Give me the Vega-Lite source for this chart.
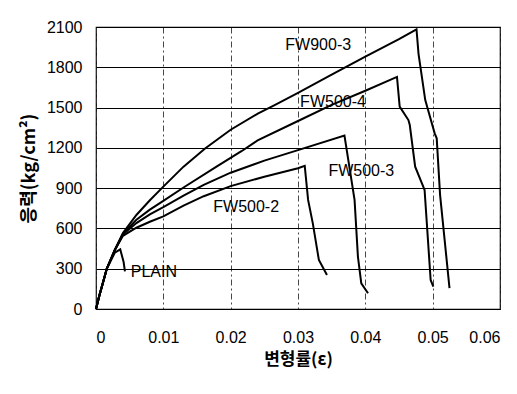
{
  "$schema": "https://vega.github.io/schema/vega-lite/v6.json",
  "width": 404,
  "height": 282,
  "autosize": "none",
  "padding": {"left": 96, "top": 27, "right": 17, "bottom": 85},
  "background": "white",
  "config": {
    "view": {"stroke": "black", "strokeWidth": 1.2},
    "font": "Liberation Sans"
  },
  "datasets": {
    "curves": [
      {"s": "FW900-3", "i": 0, "e": 0, "v": 0},
      {"s": "FW900-3", "i": 1, "e": 0.0005, "v": 100},
      {"s": "FW900-3", "i": 2, "e": 0.001, "v": 190},
      {"s": "FW900-3", "i": 3, "e": 0.0016, "v": 300},
      {"s": "FW900-3", "i": 4, "e": 0.0028, "v": 440},
      {"s": "FW900-3", "i": 5, "e": 0.004, "v": 565},
      {"s": "FW900-3", "i": 6, "e": 0.006, "v": 700},
      {"s": "FW900-3", "i": 7, "e": 0.008, "v": 810},
      {"s": "FW900-3", "i": 8, "e": 0.01, "v": 911},
      {"s": "FW900-3", "i": 9, "e": 0.013, "v": 1060},
      {"s": "FW900-3", "i": 10, "e": 0.0162, "v": 1195},
      {"s": "FW900-3", "i": 11, "e": 0.02, "v": 1335},
      {"s": "FW900-3", "i": 12, "e": 0.0241, "v": 1457},
      {"s": "FW900-3", "i": 13, "e": 0.0266, "v": 1520},
      {"s": "FW900-3", "i": 14, "e": 0.03, "v": 1610},
      {"s": "FW900-3", "i": 15, "e": 0.035, "v": 1745},
      {"s": "FW900-3", "i": 16, "e": 0.04, "v": 1880},
      {"s": "FW900-3", "i": 17, "e": 0.045, "v": 2010},
      {"s": "FW900-3", "i": 18, "e": 0.0476, "v": 2083},
      {"s": "FW900-3", "i": 19, "e": 0.0479, "v": 1900},
      {"s": "FW900-3", "i": 20, "e": 0.0489, "v": 1556},
      {"s": "FW900-3", "i": 21, "e": 0.0503, "v": 1308},
      {"s": "FW900-3", "i": 22, "e": 0.0506, "v": 1271},
      {"s": "FW900-3", "i": 23, "e": 0.0511, "v": 850},
      {"s": "FW900-3", "i": 24, "e": 0.0525, "v": 156},

      {"s": "FW500-4", "i": 0, "e": 0, "v": 0},
      {"s": "FW500-4", "i": 1, "e": 0.0005, "v": 100},
      {"s": "FW500-4", "i": 2, "e": 0.001, "v": 190},
      {"s": "FW500-4", "i": 3, "e": 0.0016, "v": 300},
      {"s": "FW500-4", "i": 4, "e": 0.0028, "v": 440},
      {"s": "FW500-4", "i": 5, "e": 0.004, "v": 560},
      {"s": "FW500-4", "i": 6, "e": 0.006, "v": 665},
      {"s": "FW500-4", "i": 7, "e": 0.008, "v": 740},
      {"s": "FW500-4", "i": 8, "e": 0.01, "v": 805},
      {"s": "FW500-4", "i": 9, "e": 0.013, "v": 905},
      {"s": "FW500-4", "i": 10, "e": 0.0179, "v": 1060},
      {"s": "FW500-4", "i": 11, "e": 0.0216, "v": 1175},
      {"s": "FW500-4", "i": 12, "e": 0.024, "v": 1255},
      {"s": "FW500-4", "i": 13, "e": 0.03, "v": 1400},
      {"s": "FW500-4", "i": 14, "e": 0.035, "v": 1520},
      {"s": "FW500-4", "i": 15, "e": 0.04, "v": 1625},
      {"s": "FW500-4", "i": 16, "e": 0.0447, "v": 1728},
      {"s": "FW500-4", "i": 17, "e": 0.0451, "v": 1507},
      {"s": "FW500-4", "i": 18, "e": 0.0464, "v": 1407},
      {"s": "FW500-4", "i": 19, "e": 0.0466, "v": 1370},
      {"s": "FW500-4", "i": 20, "e": 0.0474, "v": 1060},
      {"s": "FW500-4", "i": 21, "e": 0.0486, "v": 911},
      {"s": "FW500-4", "i": 22, "e": 0.0488, "v": 886},
      {"s": "FW500-4", "i": 23, "e": 0.0497, "v": 216},
      {"s": "FW500-4", "i": 24, "e": 0.0501, "v": 166},

      {"s": "FW500-3", "i": 0, "e": 0, "v": 0},
      {"s": "FW500-3", "i": 1, "e": 0.0005, "v": 100},
      {"s": "FW500-3", "i": 2, "e": 0.001, "v": 190},
      {"s": "FW500-3", "i": 3, "e": 0.0016, "v": 300},
      {"s": "FW500-3", "i": 4, "e": 0.0028, "v": 440},
      {"s": "FW500-3", "i": 5, "e": 0.004, "v": 555},
      {"s": "FW500-3", "i": 6, "e": 0.006, "v": 640},
      {"s": "FW500-3", "i": 7, "e": 0.008, "v": 705},
      {"s": "FW500-3", "i": 8, "e": 0.01, "v": 758},
      {"s": "FW500-3", "i": 9, "e": 0.013, "v": 845},
      {"s": "FW500-3", "i": 10, "e": 0.016, "v": 925},
      {"s": "FW500-3", "i": 11, "e": 0.02, "v": 1015},
      {"s": "FW500-3", "i": 12, "e": 0.025, "v": 1105},
      {"s": "FW500-3", "i": 13, "e": 0.03, "v": 1183},
      {"s": "FW500-3", "i": 14, "e": 0.0369, "v": 1292},
      {"s": "FW500-3", "i": 15, "e": 0.0384, "v": 812},
      {"s": "FW500-3", "i": 16, "e": 0.0389, "v": 389},
      {"s": "FW500-3", "i": 17, "e": 0.0394, "v": 191},
      {"s": "FW500-3", "i": 18, "e": 0.0404, "v": 117},

      {"s": "FW500-2", "i": 0, "e": 0, "v": 0},
      {"s": "FW500-2", "i": 1, "e": 0.0005, "v": 100},
      {"s": "FW500-2", "i": 2, "e": 0.001, "v": 190},
      {"s": "FW500-2", "i": 3, "e": 0.0016, "v": 300},
      {"s": "FW500-2", "i": 4, "e": 0.0028, "v": 440},
      {"s": "FW500-2", "i": 5, "e": 0.004, "v": 545},
      {"s": "FW500-2", "i": 6, "e": 0.006, "v": 605},
      {"s": "FW500-2", "i": 7, "e": 0.008, "v": 650},
      {"s": "FW500-2", "i": 8, "e": 0.01, "v": 690},
      {"s": "FW500-2", "i": 9, "e": 0.013, "v": 770},
      {"s": "FW500-2", "i": 10, "e": 0.016, "v": 840},
      {"s": "FW500-2", "i": 11, "e": 0.02, "v": 915},
      {"s": "FW500-2", "i": 12, "e": 0.025, "v": 985},
      {"s": "FW500-2", "i": 13, "e": 0.03, "v": 1048},
      {"s": "FW500-2", "i": 14, "e": 0.031, "v": 1066},
      {"s": "FW500-2", "i": 15, "e": 0.0315, "v": 812},
      {"s": "FW500-2", "i": 16, "e": 0.0322, "v": 638},
      {"s": "FW500-2", "i": 17, "e": 0.0331, "v": 365},
      {"s": "FW500-2", "i": 18, "e": 0.0343, "v": 253},

      {"s": "PLAIN", "i": 0, "e": 0, "v": 0},
      {"s": "PLAIN", "i": 1, "e": 0.0005, "v": 100},
      {"s": "PLAIN", "i": 2, "e": 0.001, "v": 190},
      {"s": "PLAIN", "i": 3, "e": 0.0016, "v": 300},
      {"s": "PLAIN", "i": 4, "e": 0.0028, "v": 420},
      {"s": "PLAIN", "i": 5, "e": 0.0036, "v": 444},
      {"s": "PLAIN", "i": 6, "e": 0.0041, "v": 350},
      {"s": "PLAIN", "i": 7, "e": 0.0043, "v": 280}
    ],
    "labels": [
      {"t": "FW900-3", "e": 0.033, "v": 1966},
      {"t": "FW500-4", "e": 0.0352, "v": 1545},
      {"t": "FW500-3", "e": 0.0394, "v": 1024},
      {"t": "FW500-2", "e": 0.0223, "v": 763},
      {"t": "PLAIN", "e": 0.0086, "v": 279}
    ]
  },
  "layer": [
    {
      "data": {"name": "curves"},
      "mark": {"type": "line", "color": "black", "strokeWidth": 2, "strokeJoin": "miter"},
      "encoding": {
        "x": {
          "field": "e",
          "type": "quantitative",
          "scale": {"domain": [0, 0.06], "nice": false},
          "axis": {
            "values": [0, 0.01, 0.02, 0.03, 0.04, 0.05, 0.06],
            "format": "~g",
            "title": "변형률(ε)",
            "titleFont": "Noto Sans CJK KR",
            "titleFontSize": 17,
            "titleFontWeight": "bold",
            "titleColor": "black",
            "titlePadding": 6,
            "labelFont": "Liberation Sans",
            "labelFontSize": 16,
            "labelColor": "black",
            "labelPadding": 20,
            "ticks": false,
            "domain": false,
            "grid": true,
            "gridColor": "#333333",
            "gridDash": [6, 3, 2, 3],
            "gridWidth": 0.9
          }
        },
        "y": {
          "field": "v",
          "type": "quantitative",
          "scale": {"domain": [0, 2100], "nice": false},
          "axis": {
            "values": [0, 300, 600, 900, 1200, 1500, 1800, 2100],
            "format": "d",
            "title": "응력(kg/cm²)",
            "titleFont": "Noto Sans CJK KR",
            "titleFontSize": 18,
            "titleFontWeight": "bold",
            "titleColor": "black",
            "titlePadding": 8,
            "labelFont": "Liberation Sans",
            "labelFontSize": 16,
            "labelColor": "black",
            "labelPadding": 14,
            "ticks": false,
            "domain": false,
            "grid": true,
            "gridColor": "black",
            "gridWidth": 1
          }
        },
        "detail": {"field": "s"},
        "order": {"field": "i", "type": "quantitative"}
      }
    },
    {
      "data": {"name": "labels"},
      "mark": {"type": "text", "font": "Liberation Sans", "fontSize": 16, "color": "black", "align": "center", "baseline": "middle"},
      "encoding": {
        "x": {"field": "e", "type": "quantitative"},
        "y": {"field": "v", "type": "quantitative"},
        "text": {"field": "t"}
      }
    }
  ]
}
